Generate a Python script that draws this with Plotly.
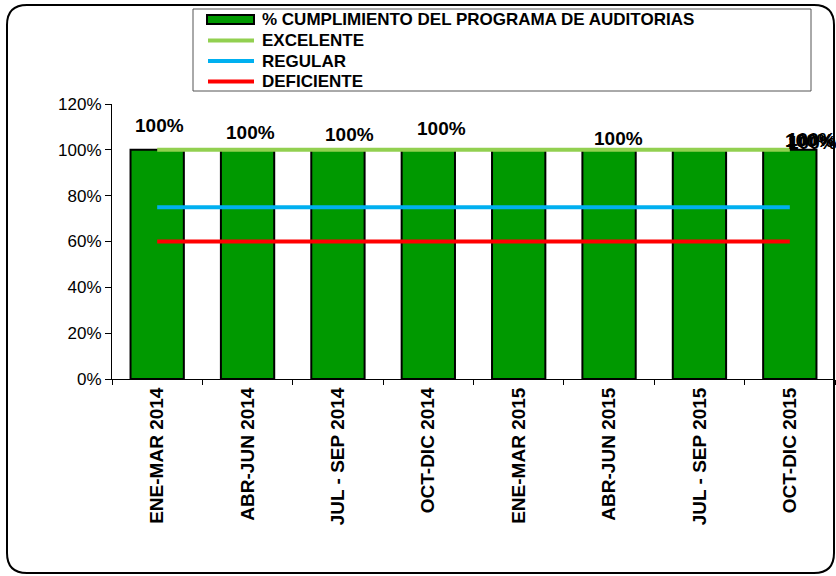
import plotly.graph_objects as go

# datos
periodos = ['ENE-MAR 2014', 'ABR-JUN 2014', 'JUL - SEP 2014', 'OCT-DIC 2014',
            'ENE-MAR 2015', 'ABR-JUN 2015', 'JUL - SEP 2015', 'OCT-DIC 2015']
cumplimiento = [1.0, 1.0, 1.0, 1.0, 1.0, 1.0, 1.0, 1.0]
excelente = [1.0, 1.0, 1.0, 1.0, 1.0, 1.0, 1.0, 1.0]
regular = [0.75, 0.75, 0.75, 0.75, 0.75, 0.75, 0.75, 0.75]
deficiente = [0.60, 0.60, 0.60, 0.60, 0.60, 0.60, 0.60, 0.60]

serie_nombres = ['% CUMPLIMIENTO DEL PROGRAMA DE AUDITORIAS', 'EXCELENTE', 'REGULAR', 'DEFICIENTE']
serie_colores = ['#009900', '#92D050', '#00B0F0', '#FF0000']

# desplazamiento de las etiquetas (px), como quedaron movidas en el original
lbl_dx = [2, 3, 12, 13, 294, 9, 112, 20]
lbl_dy = [24, 17, 15, 21, 7, 11, 10, 9]

W, H = 836, 576
L, R, T, B = 112, 1, 104, 197
pw, ph = W - L - R, H - T - B
FONT = 'Arial, Liberation Sans'


def px(x):
    return (x - L) / pw


def py(y):
    return (H - B - y) / ph


fig = go.Figure()

fig.add_trace(go.Bar(
    x=periodos, y=cumplimiento, name=serie_nombres[0],
    marker=dict(color=serie_colores[0], line=dict(color='black', width=2))))

for nombre, vals, col in zip(serie_nombres[1:], [excelente, regular, deficiente], serie_colores[1:]):
    fig.add_trace(go.Scatter(
        x=periodos, y=vals, name=nombre, mode='lines',
        line=dict(color=col, width=4)))

# etiquetas de datos
for i, v in enumerate(cumplimiento):
    fig.add_annotation(
        x=periodos[i], y=v, text='{:.0%}'.format(v), showarrow=False,
        xshift=lbl_dx[i], yshift=lbl_dy[i], yanchor='middle',
        font=dict(family=FONT, size=19, color='black', weight='bold'))

# marco redondeado exterior
x0, x1, y0, y1, r = 7, 834, 5, 573, 20
path = ('M {a},{b} L {c},{b} Q {d},{b} {d},{e} L {d},{f} Q {d},{g} {c},{g} '
        'L {a},{g} Q {h},{g} {h},{f} L {h},{e} Q {h},{b} {a},{b} Z').format(
    a=px(x0 + r), b=py(y0), c=px(x1 - r), d=px(x1), e=py(y0 + r),
    f=py(y1 - r), g=py(y1), h=px(x0))
fig.add_shape(type='path', path=path, xref='paper', yref='paper',
              line=dict(color='black', width=2))

# leyenda (dibujada a mano para respetar el espaciado del original)
fig.add_shape(type='rect', xref='paper', yref='paper',
              x0=px(193), x1=px(811), y0=py(91), y1=py(9),
              line=dict(color='#555555', width=1))
ley_y = [19.5, 40.5, 61, 81.5]
for k, (nombre, col) in enumerate(zip(serie_nombres, serie_colores)):
    yc = ley_y[k]
    if k == 0:
        fig.add_shape(type='rect', xref='paper', yref='paper',
                      x0=px(207), x1=px(254), y0=py(yc + 4.5), y1=py(yc - 4.5),
                      fillcolor=col, line=dict(color='black', width=2))
    else:
        fig.add_shape(type='line', xref='paper', yref='paper',
                      x0=px(208), x1=px(254), y0=py(yc), y1=py(yc),
                      line=dict(color=col, width=4))
    fig.add_annotation(
        xref='paper', yref='paper', x=px(260), y=py(yc), text=nombre,
        showarrow=False, xanchor='left', yanchor='middle',
        font=dict(family=FONT, size=17, color='black', weight='bold'))

fig.update_layout(
    width=W, height=H,
    margin=dict(l=L, r=R, t=T, b=B, autoexpand=False),
    paper_bgcolor='white', plot_bgcolor='white',
    bargap=0.41,
    font=dict(family=FONT, color='black'),
    showlegend=False,
)

fig.update_xaxes(
    range=[-0.5, len(periodos) - 0.5],
    showline=True, linecolor='black', linewidth=1,
    ticks='outside', ticklen=5, tickcolor='black', tickson='boundaries',
    tickangle=-90, tickfont=dict(size=19, weight='bold'),
    showgrid=False, automargin=False)

fig.update_yaxes(
    range=[0, 1.2], dtick=0.2, tickformat='.0%',
    showline=True, linecolor='black', linewidth=1,
    ticks='outside', ticklen=6, tickcolor='black',
    tickfont=dict(size=17), showgrid=False, zeroline=False, automargin=False)

# sin margen del body para que la figura ocupe la ventana entera
fig.write_html('out.html', config={'displayModeBar': False},
               post_script="document.body.style.margin='0';")
